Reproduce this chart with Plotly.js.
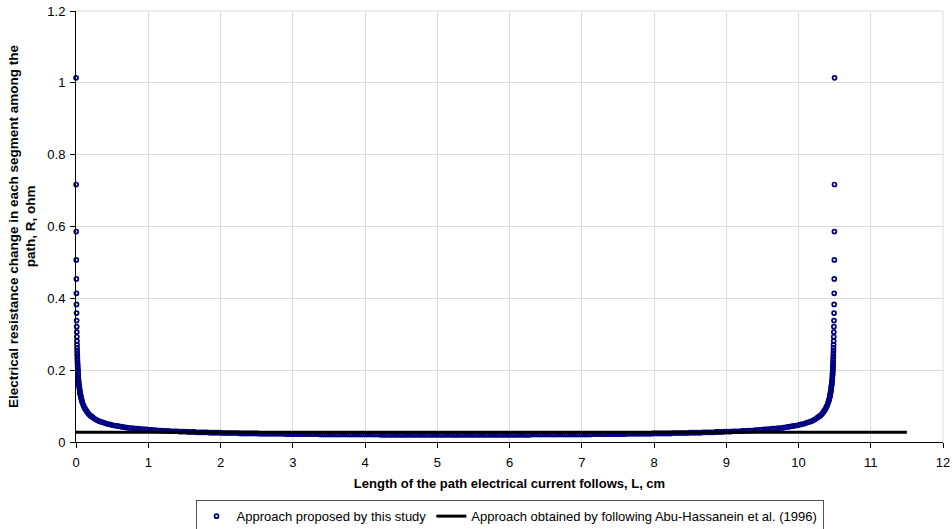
<!DOCTYPE html>
<html>
<head>
<meta charset="utf-8">
<script src="https://cdn.plot.ly/plotly-3.0.1.min.js"></script>
<style>
html,body{margin:0;padding:0;background:#fff;}
#chart{width:952px;height:529px;}
</style>
</head>
<body>
<div id="chart"></div>
<script>
// ---- Data ----
const seriesNames = ["Approach proposed by this study", "Approach obtained by following Abu-Hassanein et al. (1996)"];
const xTickVals = [0,1,2,3,4,5,6,7,8,9,10,11,12];
const yTickVals = [0,0.2,0.4,0.6,0.8,1,1.2];
const yTickText = ["0","0.2","0.4","0.6","0.8","1","1.2"];

// left end of the path (steep rise)
const endLeftX = [0.001,0.002,0.003,0.004,0.005,0.006,0.007,0.008,0.009,0.010,0.011,0.012,0.013,0.014,0.015,0.016,0.017,0.018,0.019,0.020,0.021,0.022,0.023,0.024,0.025,0.026,0.027,0.028,0.029,0.030,0.032,0.034,0.036,0.038,0.040,0.0425,0.045,0.0475,0.050,0.0525,0.055,0.0575,0.060,0.0625,0.065,0.0675,0.070,0.075,0.080,0.085,0.090,0.10,0.11,0.12,0.13,0.14,0.15,0.165,0.18,0.195,0.21,0.23,0.25,0.27,0.29,0.32,0.35,0.38,0.41,0.44,0.47];
const endLeftY = [1.014,0.717,0.586,0.507,0.454,0.414,0.383,0.359,0.338,0.321,0.306,0.293,0.281,0.271,0.262,0.254,0.246,0.239,0.233,0.227,0.221,0.216,0.212,0.207,0.203,0.199,0.195,0.192,0.188,0.185,0.179,0.174,0.169,0.165,0.160,0.158,0.154,0.150,0.146,0.142,0.139,0.136,0.133,0.131,0.128,0.126,0.123,0.119,0.116,0.112,0.109,0.103,0.099,0.095,0.091,0.088,0.085,0.081,0.077,0.074,0.072,0.069,0.066,0.063,0.061,0.058,0.056,0.054,0.052,0.050,0.049];

// middle, left half
const midLeftX = [
0.50,0.53,0.56,0.59,0.62,0.65,0.68,0.71,0.74,0.77,
0.80,0.83,0.86,0.89,0.92,0.95,0.98,1.01,1.04,1.07,
1.10,1.13,1.16,1.19,1.22,1.25,1.28,1.31,1.34,1.37,
1.40,1.43,1.46,1.49,1.52,1.55,1.58,1.61,1.64,1.67,
1.70,1.73,1.76,1.79,1.82,1.85,1.88,1.91,1.94,1.97,
2.00,2.03,2.06,2.09,2.12,2.15,2.18,2.21,2.24,2.27,
2.30,2.33,2.36,2.39,2.42,2.45,2.48,2.51,2.54,2.57,
2.60,2.63,2.66,2.69,2.72,2.75,2.78,2.81,2.84,2.87,
2.90,2.93,2.96,2.99,3.02,3.05,3.08,3.11,3.14,3.17,
3.20,3.23,3.26,3.29,3.32,3.35,3.38,3.41,3.44,3.47,
3.50,3.53,3.56,3.59,3.62,3.65,3.68,3.71,3.74,3.77,
3.80,3.83,3.86,3.89,3.92,3.95,3.98,4.01,4.04,4.07,
4.10,4.13,4.16,4.19,4.22,4.25,4.28,4.31,4.34,4.37,
4.40,4.43,4.46,4.49,4.52,4.55,4.58,4.61,4.64,4.67,
4.70,4.73,4.76,4.79,4.82,4.85,4.88,4.91,4.94,4.97,
5.00,5.03,5.06,5.09,5.12,5.15,5.18,5.21,5.24];
const midLeftY = [
0.047,0.046,0.045,0.044,0.043,0.042,0.041,0.040,0.039,0.039,
0.038,0.037,0.037,0.036,0.036,0.035,0.035,0.034,0.034,0.033,
0.033,0.032,0.032,0.032,0.031,0.031,0.031,0.030,0.030,0.030,
0.030,0.029,0.029,0.029,0.029,0.028,0.028,0.028,0.028,0.027,
0.027,0.027,0.027,0.027,0.027,0.026,0.026,0.026,0.026,0.026,
0.026,0.025,0.025,0.025,0.025,0.025,0.025,0.025,0.025,0.024,
0.024,0.024,0.024,0.024,0.024,0.024,0.024,0.024,0.023,0.023,
0.023,0.023,0.023,0.023,0.023,0.023,0.023,0.023,0.023,0.023,
0.022,0.022,0.022,0.022,0.022,0.022,0.022,0.022,0.022,0.022,
0.022,0.022,0.022,0.022,0.022,0.022,0.021,0.021,0.021,0.021,
0.021,0.021,0.021,0.021,0.021,0.021,0.021,0.021,0.021,0.021,
0.021,0.021,0.021,0.021,0.021,0.021,0.021,0.021,0.021,0.021,
0.021,0.021,0.021,0.021,0.020,0.020,0.020,0.020,0.020,0.020,
0.020,0.020,0.020,0.020,0.020,0.020,0.020,0.020,0.020,0.020,
0.020,0.020,0.020,0.020,0.020,0.020,0.020,0.020,0.020,0.020,
0.020,0.020,0.020,0.020,0.020,0.020,0.020,0.020,0.020];

// middle, right half
const midRightX = [
5.26,5.29,5.32,5.35,5.38,5.41,5.44,5.47,5.50,
5.53,5.56,5.59,5.62,5.65,5.68,5.71,5.74,5.77,5.80,
5.83,5.86,5.89,5.92,5.95,5.98,6.01,6.04,6.07,6.10,
6.13,6.16,6.19,6.22,6.25,6.28,6.31,6.34,6.37,6.40,
6.43,6.46,6.49,6.52,6.55,6.58,6.61,6.64,6.67,6.70,
6.73,6.76,6.79,6.82,6.85,6.88,6.91,6.94,6.97,7.00,
7.03,7.06,7.09,7.12,7.15,7.18,7.21,7.24,7.27,7.30,
7.33,7.36,7.39,7.42,7.45,7.48,7.51,7.54,7.57,7.60,
7.63,7.66,7.69,7.72,7.75,7.78,7.81,7.84,7.87,7.90,
7.93,7.96,7.99,8.02,8.05,8.08,8.11,8.14,8.17,8.20,
8.23,8.26,8.29,8.32,8.35,8.38,8.41,8.44,8.47,8.50,
8.53,8.56,8.59,8.62,8.65,8.68,8.71,8.74,8.77,8.80,
8.83,8.86,8.89,8.92,8.95,8.98,9.01,9.04,9.07,9.10,
9.13,9.16,9.19,9.22,9.25,9.28,9.31,9.34,9.37,9.40,
9.43,9.46,9.49,9.52,9.55,9.58,9.61,9.64,9.67,9.70,
9.73,9.76,9.79,9.82,9.85,9.88,9.91,9.94,9.97,10.00];
const midRightY = [
0.020,0.020,0.020,0.020,0.020,0.020,0.020,0.020,0.020,
0.020,0.020,0.020,0.020,0.020,0.020,0.020,0.020,0.020,0.020,
0.020,0.020,0.020,0.020,0.020,0.020,0.020,0.020,0.020,0.020,
0.020,0.020,0.020,0.020,0.020,0.020,0.021,0.021,0.021,0.021,
0.021,0.021,0.021,0.021,0.021,0.021,0.021,0.021,0.021,0.021,
0.021,0.021,0.021,0.021,0.021,0.021,0.021,0.021,0.021,0.021,
0.021,0.021,0.021,0.021,0.022,0.022,0.022,0.022,0.022,0.022,
0.022,0.022,0.022,0.022,0.022,0.022,0.022,0.022,0.022,0.022,
0.023,0.023,0.023,0.023,0.023,0.023,0.023,0.023,0.023,0.023,
0.023,0.023,0.024,0.024,0.024,0.024,0.024,0.024,0.024,0.024,
0.024,0.025,0.025,0.025,0.025,0.025,0.025,0.025,0.025,0.026,
0.026,0.026,0.026,0.026,0.026,0.027,0.027,0.027,0.027,0.027,
0.027,0.028,0.028,0.028,0.028,0.029,0.029,0.029,0.029,0.030,
0.030,0.030,0.030,0.031,0.031,0.031,0.032,0.032,0.032,0.033,
0.033,0.034,0.034,0.035,0.035,0.036,0.036,0.037,0.037,0.038,
0.039,0.039,0.040,0.041,0.042,0.043,0.044,0.045,0.046,0.047];

// right end of the path (steep rise)
const endRightX = [10.03,10.06,10.09,10.12,10.15,10.18,10.21,10.23,10.25,10.27,10.29,10.305,10.32,10.335,10.35,10.36,10.37,10.38,10.39,10.40,10.41,10.415,10.42,10.425,10.43,10.4325,10.435,10.4375,10.44,10.4425,10.445,10.4475,10.45,10.4525,10.455,10.4575,10.46,10.462,10.464,10.466,10.468,10.470,10.471,10.472,10.473,10.474,10.475,10.476,10.477,10.478,10.479,10.480,10.481,10.482,10.483,10.484,10.485,10.486,10.487,10.488,10.489,10.490,10.491,10.492,10.493,10.494,10.495,10.496,10.497,10.498,10.499];
const endRightY = [0.049,0.050,0.052,0.054,0.056,0.058,0.061,0.063,0.066,0.069,0.072,0.074,0.077,0.081,0.085,0.088,0.091,0.095,0.099,0.103,0.109,0.112,0.116,0.119,0.123,0.126,0.128,0.131,0.133,0.136,0.139,0.142,0.146,0.150,0.154,0.158,0.160,0.165,0.169,0.174,0.179,0.185,0.188,0.192,0.195,0.199,0.203,0.207,0.212,0.216,0.221,0.227,0.233,0.239,0.246,0.254,0.262,0.271,0.281,0.293,0.306,0.321,0.338,0.359,0.383,0.414,0.454,0.507,0.586,0.717,1.014];

// Abu-Hassanein et al. (1996) constant value
const refX = [0, 11.5];
const refY = [0.027, 0.027];

// ---- Chart ----
const studyX = endLeftX.concat(midLeftX, midRightX, endRightX);
const studyY = endLeftY.concat(midLeftY, midRightY, endRightY);

const FONT = "Liberation Sans, Arial, Helvetica, sans-serif";

const traces = [
  {
    type: "scatter", mode: "markers", name: seriesNames[0],
    x: studyX, y: studyY,
    marker: { symbol: "circle-open", size: 4, color: "#000080", line: { width: 1.7, color: "#000080" } },
    cliponaxis: false
  },
  {
    type: "scatter", mode: "lines", name: seriesNames[1],
    x: refX, y: refY,
    line: { color: "#000000", width: 3 }
  }
];

const layout = {
  width: 952, height: 529,
  paper_bgcolor: "#ffffff", plot_bgcolor: "#ffffff",
  margin: { l: 76, r: 9, t: 11, b: 87, autoexpand: false },
  font: { family: FONT, size: 13, color: "#000000" },
  showlegend: true,
  legend: {
    orientation: "h", x: 0.5, xanchor: "center", y: -0.135, yanchor: "top",
    bordercolor: "#555555", borderwidth: 1, bgcolor: "#ffffff",
    font: { family: FONT, size: 13, color: "#000000" },
    itemclick: false
  },
  xaxis: {
    range: [0, 12], tickvals: xTickVals, ticktext: xTickVals.map(String),
    showgrid: true, gridcolor: "#dcdcdc", gridwidth: 1,
    zeroline: false, showline: true, linecolor: "#000000", linewidth: 1,
    ticks: "outside", ticklen: 5, tickcolor: "#000000", tickwidth: 1,
    ticklabelstandoff: 3,
    tickfont: { family: FONT, size: 13, color: "#000000" },
    title: { text: "<b>Length of the path electrical current follows, L, cm</b>", font: { family: FONT, size: 13, color: "#000000" }, standoff: 10 },
    automargin: false, fixedrange: true
  },
  yaxis: {
    range: [0, 1.2], tickvals: yTickVals, ticktext: yTickText,
    showgrid: true, gridcolor: "#dcdcdc", gridwidth: 1,
    zeroline: false, showline: true, linecolor: "#000000", linewidth: 1,
    ticks: "outside", ticklen: 5, tickcolor: "#000000", tickwidth: 1,
    ticklabelstandoff: 2,
    tickfont: { family: FONT, size: 13, color: "#000000" },
    title: { text: "<b>Electrical resistance change in each segment among the<br>path, R, ohm</b>", font: { family: FONT, size: 13.5, color: "#000000" }, standoff: 8 },
    automargin: false, fixedrange: true
  },
  shapes: [
    { type: "line", xref: "paper", yref: "paper", x0: 1, x1: 1, y0: 0, y1: 1, line: { color: "#dcdcdc", width: 1 }, layer: "below" },
    { type: "line", xref: "paper", yref: "paper", x0: 0, x1: 1, y0: 1, y1: 1, line: { color: "#dcdcdc", width: 1 }, layer: "below" }
  ]
};

Plotly.newPlot("chart", traces, layout, { displayModeBar: false, staticPlot: true });
</script>
</body>
</html>
